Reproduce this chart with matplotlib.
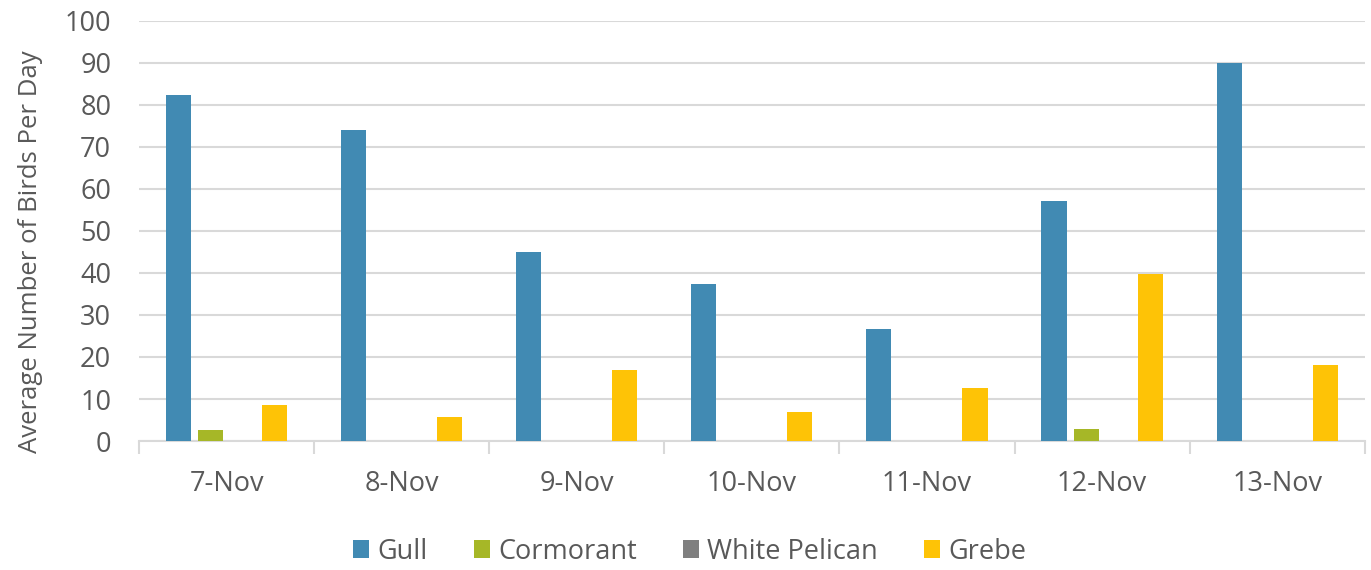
import matplotlib.pyplot as plt
import numpy as np

plt.rcParams['font.family'] = ['Open Sans', 'DejaVu Sans']

# Data
days = ['7-Nov', '8-Nov', '9-Nov', '10-Nov', '11-Nov', '12-Nov', '13-Nov']
gull = [82.4, 74.0, 45.0, 37.4, 26.7, 57.2, 90.0]
cormorant = [2.6, 0, 0, 0, 0, 2.9, 0]
white_pelican = [0, 0, 0, 0, 0, 0, 0]
grebe = [8.6, 5.7, 16.9, 6.9, 12.6, 39.8, 18.1]

series = [('Gull', gull, '#418AB3'),
          ('Cormorant', cormorant, '#A6B727'),
          ('White Pelican', white_pelican, '#7F7F7F'),
          ('Grebe', grebe, '#FEC306')]

text_col = '#595959'
grid_col = '#D9D9D9'
fs = 19.5

fig = plt.figure(figsize=(13.71, 5.70), dpi=100)
ax = fig.add_axes([0.1014, 0.2263, 0.894, 0.737])

x = np.arange(len(days))
width = 0.143
step = 0.183
for i, (name, vals, col) in enumerate(series):
    ax.bar(x + (i - 1.5) * step, vals, width, color=col, label=name, zorder=3)

ax.set_xlim(-0.5, len(days) - 0.5)
ax.set_ylim(0, 100)
ax.set_yticks(range(0, 101, 10))
ax.yaxis.grid(True, color=grid_col, linewidth=1.5, zorder=0)
ax.set_axisbelow(True)

# category labels centred, tick marks at boundaries
ax.set_xticks(x)
ax.set_xticklabels(days)
ax.set_xticks(np.arange(-0.5, len(days)), minor=True)
ax.tick_params(axis='x', which='major', length=0, pad=21, labelsize=fs, labelcolor=text_col)
ax.tick_params(axis='x', which='minor', length=9, width=1.5, color=grid_col)
ax.tick_params(axis='y', length=0, pad=20, labelsize=fs, labelcolor=text_col)

for side in ['top', 'right', 'left']:
    ax.spines[side].set_visible(False)
ax.spines['bottom'].set_color(grid_col)
ax.spines['bottom'].set_linewidth(1.5)

ax.set_ylabel('Average Number of Birds Per Day', fontsize=18.5, color=text_col)
ax.yaxis.set_label_coords(-0.078, 0.45)

fig.legend(loc='lower center', bbox_to_anchor=(0.503, -0.035), ncol=4, frameon=False,
           fontsize=fs, labelcolor=text_col, handlelength=0.6, handleheight=0.6,
           handletextpad=0.3, columnspacing=1.7)

fig.savefig('out.png', dpi=100)
